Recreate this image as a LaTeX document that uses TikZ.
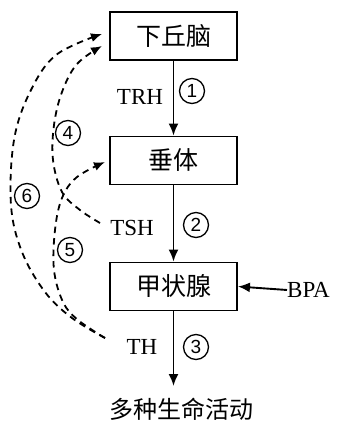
\documentclass[tikz,border=0pt]{standalone}
\usepackage{fontspec}
\setmainfont{Liberation Serif}
\newfontfamily\cjk{Noto Sans CJK SC}
\newfontfamily\numfont{Liberation Sans}
\usetikzlibrary{arrows.meta}
\tikzset{
  box/.style={draw, line width=1.9pt, minimum width=127pt, minimum height=48pt, inner sep=0pt, font=\cjk\fontsize{25}{25}\selectfont},
  lab/.style={inner sep=0pt, font=\fontsize{23}{23}\selectfont},
  cn/.style={circle, draw, line width=1.3pt, inner sep=0pt, minimum size=25pt, font=\numfont\fontsize{19}{19}\selectfont},
  flow/.style={line width=1.9pt, -{Latex[length=12pt,width=10pt]}},
  fb/.style={line width=1.8pt, dash pattern=on 6.5pt off 5pt, -{Latex[length=11pt,width=9pt]}},
}
\begin{document}
\begin{tikzpicture}[x=1pt,y=-1pt]
\useasboundingbox (0,0) rectangle (339,424);
\node[box] (hyp) at (173.5,36) {下丘脑};
\node[box] (pit) at (173.5,160.5) {垂体};
\node[box] (thy) at (173.5,286.5) {甲状腺};
\node[inner sep=0pt, font=\cjk\fontsize{24}{24}\selectfont, anchor=north] (out) at (182,398) {多种生命活动};
\node[lab, anchor=west] (bpa) at (287,290) {BPA};
\node[lab] (trh) at (140,97) {TRH};
\node[lab] (tsh) at (132,228) {TSH};
\node[lab] (th) at (142,347) {TH};
\node[cn] (c1) at (192,91) {1};
\node[cn] (c2) at (196,225) {2};
\node[cn] (c3) at (196,347) {3};
\node[cn] (c4) at (68,133) {4};
\node[cn] (c5) at (70,250) {5};
\node[cn] (c6) at (27,196) {6};
\coordinate (outtop) at (173.5,386);
\draw[flow] (hyp.south) -- (pit.north);
\draw[flow] (pit.south) -- (thy.north);
\draw[flow] (thy.south) -- (outtop);
\draw[flow] (bpa.west) -- (thy.east);
% feedback
\coordinate (tshend) at (100,223);
\coordinate (thend) at (105,338);
\coordinate (hypa) at (102,34);
\coordinate (hypb) at (102,46);
\coordinate (pita) at (105,162);
\draw[fb] plot[smooth, tension=0.6] coordinates {(tshend) (80,210) (62,192) (53,160) (54,125) (62,92) (77,64) (hypb)};
\draw[fb] plot[smooth, tension=0.6] coordinates {(thend) (78,320) (63,302) (54,270) (55,230) (62,198) (77,177) (pita)};
\draw[fb] plot[smooth, tension=0.6] coordinates {(thend) (72,318) (45,292) (22,252) (11,205) (14,140) (30,92) (56,55) (hypa)};
\end{tikzpicture}
\end{document}
